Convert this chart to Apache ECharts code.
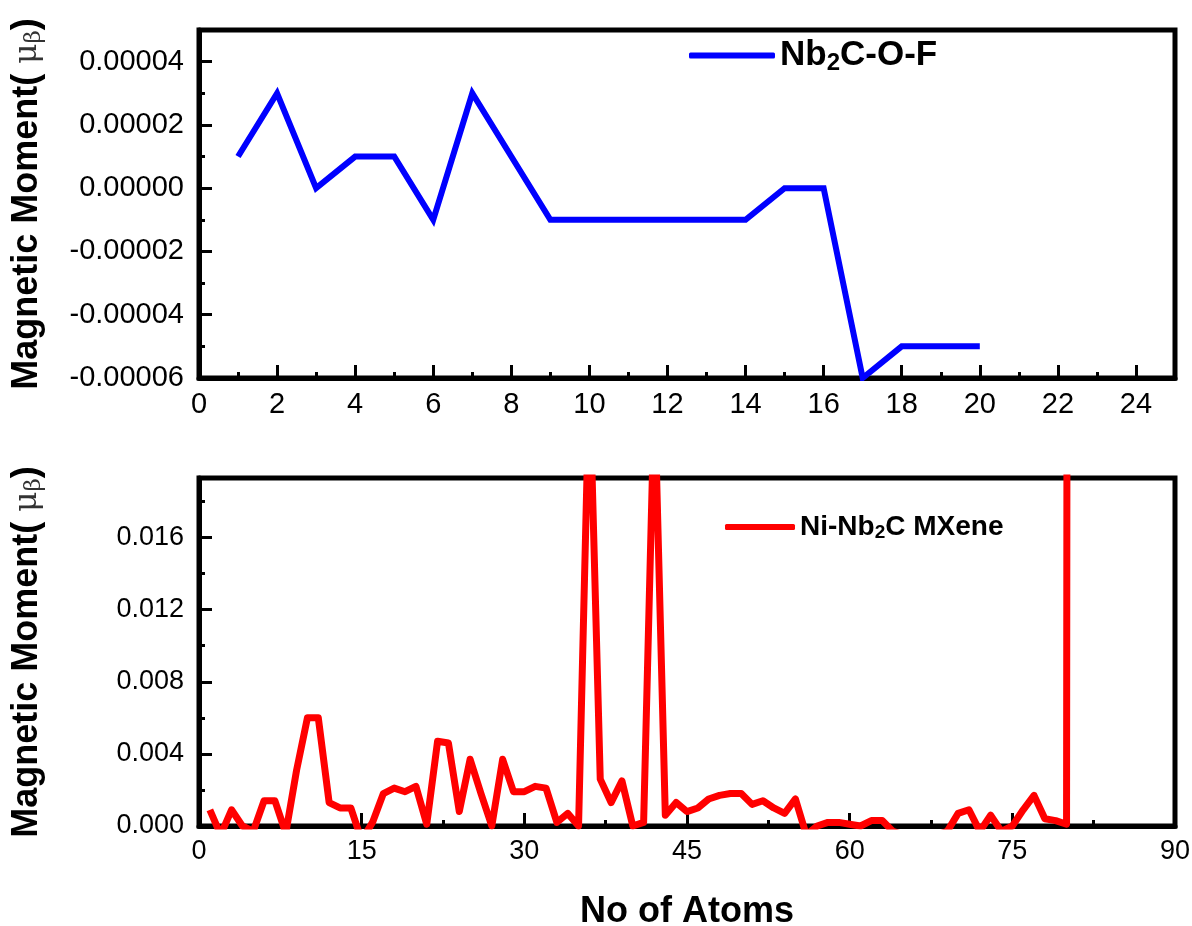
<!DOCTYPE html>
<html>
<head>
<meta charset="utf-8">
<script src="https://cdn.jsdelivr.net/npm/echarts@6/dist/echarts.min.js"></script>
<style>
html,body{margin:0;padding:0;background:#fff;}
#chart{width:1192px;height:926px;}
</style>
</head>
<body>
<div id="chart"></div>
<script>
// ---- Data ----
const topAtoms = [1,2,3,4,5,6,7,8,9,10,11,12,13,14,15,16,17,18,19,20];
const topMoment = [0.00001,0.00003,0.00000,0.00001,0.00001,-0.00001,0.00003,0.00001,-0.00001,-0.00001,
                   -0.00001,-0.00001,-0.00001,-0.00001,0.00000,0.00000,-0.00006,-0.00005,-0.00005,-0.00005];
const topXTicks = [0,2,4,6,8,10,12,14,16,18,20,22,24];

const bottomMoment = [
  0.0009,-0.0005,0.0009,0.0000,-0.0003,0.0014,0.0014,-0.0004,0.0031,0.0060,
  0.0060,0.0013,0.0010,0.0010,-0.0008,0.0002,0.0018,0.0021,0.0019,0.0022,
  0.0001,0.0047,0.0046,0.0008,0.0037,0.0018,0.0000,0.0037,0.0019,0.0019,
  0.0022,0.0021,0.0002,0.0007,0.0000,0.0250,0.0026,0.0013,0.0025,0.0000,
  0.0002,0.0240,0.0006,0.0013,0.0008,0.0010,0.0015,0.0017,0.0018,0.0018,
  0.0012,0.0014,0.0010,0.0007,0.0015,-0.0005,0.0000,0.0002,0.0002,0.0001,
  0.0000,0.0003,0.0003,-0.0003,-0.0005,-0.0005,-0.0005,-0.0005,-0.0003,0.0007,
  0.0009,-0.0003,0.0006,-0.0003,0.0000,0.0009,0.0017,0.0004,0.0003,0.0001,
  0.6000
];
const bottomAtoms = bottomMoment.map((v, i) => i + 1);

const topName = 'Nb2C-O-F';
const bottomName = 'Ni-Nb2C MXene';

// ---- Chart ----
const chart = echarts.init(document.getElementById('chart'), null, {renderer: 'canvas'});

const FONT = 'Liberation Sans, Arial, sans-serif';
const frame = {show: true, onZero: false, lineStyle: {color: '#000', width: 5}};
const noLine = {show: false, onZero: false};
const tickMajor = {show: true, inside: true, length: 13, lineStyle: {color: '#000', width: 3}};
const tickMinor = {show: true, inside: true, length: 6, lineStyle: {color: '#000', width: 3}};
const labelTop = {color: '#000', fontSize: 29, fontFamily: FONT};
const labelBottom = {color: '#000', fontSize: 27, fontFamily: FONT};

const yName = 'Magnetic Moment( {mu|μ}{sub|β})';
const yNameStyle = {
  color: '#000', fontSize: 36, fontWeight: 'bold', fontFamily: FONT,
  rich: {
    mu: {fontSize: 31, fontFamily: 'DejaVu Serif, serif', fontWeight: 'normal', color: '#333'},
    sub: {fontSize: 23, fontFamily: 'DejaVu Serif, serif', fontWeight: 'normal', color: '#333', padding: [14, 0, 0, 0]}
  }
};

const legendRich = (big, small, pad) => ({
  a: {fontSize: big, fontWeight: 'bold', fontFamily: FONT, color: '#000'},
  s: {fontSize: small, fontWeight: 'bold', fontFamily: FONT, color: '#000', padding: [pad, 0, 0, 0]}
});

const option = {
  backgroundColor: '#fff',
  animation: false,
  grid: [
    {left: 199, top: 30, width: 976, height: 348, show: true, borderColor: '#000', borderWidth: 5,
     backgroundColor: 'transparent', containLabel: false, outerBoundsMode: 'none'},
    {left: 199, top: 478, width: 976, height: 348, show: true, borderColor: '#000', borderWidth: 5,
     backgroundColor: 'transparent', containLabel: false, outerBoundsMode: 'none'}
  ],
  legend: [
    {
      data: [{name: topName, icon: 'roundRect'}],
      left: 684, top: 33, itemWidth: 86, itemHeight: 6, itemGap: 9,
      formatter: () => '{a|Nb}{s|2}{a|C-O-F}',
      textStyle: {rich: legendRich(35, 24, 15)}
    },
    {
      data: [{name: bottomName, icon: 'roundRect'}],
      left: 720, top: 508, itemWidth: 70, itemHeight: 6, itemGap: 8,
      formatter: () => '{a|Ni-Nb}{s|2}{a|C MXene}',
      textStyle: {rich: legendRich(28, 19, 12)}
    }
  ],
  xAxis: [
    {
      type: 'value', gridIndex: 0, position: 'bottom', min: 0, max: 25, interval: 2,
      axisLine: frame, axisTick: tickMajor, splitLine: {show: false},
      axisLabel: Object.assign({margin: 12, showMaxLabel: false,
        formatter: v => topXTicks.indexOf(v) >= 0 ? String(v) : ''}, labelTop)
    },
    {
      type: 'value', gridIndex: 0, position: 'bottom', min: 0, max: 25, interval: 1,
      axisLine: noLine, axisTick: tickMinor, splitLine: {show: false}, axisLabel: {show: false}
    },
    {
      type: 'value', gridIndex: 1, position: 'bottom', min: 0, max: 90, interval: 15,
      axisLine: frame, axisTick: tickMajor, splitLine: {show: false},
      axisLabel: Object.assign({margin: 12}, labelBottom),
      name: 'No of Atoms', nameLocation: 'middle', nameGap: 68,
      nameTextStyle: {color: '#000', fontSize: 36, fontWeight: 'bold', fontFamily: FONT}
    },
    {
      type: 'value', gridIndex: 1, position: 'bottom', min: 0, max: 90, interval: 7.5,
      axisLine: noLine, axisTick: tickMinor, splitLine: {show: false}, axisLabel: {show: false}
    }
  ],
  yAxis: [
    {
      type: 'value', gridIndex: 0, position: 'left', min: -0.00006, max: 0.00005, interval: 0.00002,
      axisLine: frame, axisTick: tickMajor, splitLine: {show: false},
      axisLabel: Object.assign({margin: 15, showMaxLabel: false,
        formatter: v => Math.abs(v) < 1e-12 ? '0.00000' : v.toFixed(5)}, labelTop),
      name: yName, nameLocation: 'middle', nameRotate: 90, nameGap: 153,
      nameTextStyle: yNameStyle
    },
    {
      type: 'value', gridIndex: 0, position: 'left', min: -0.00006, max: 0.00005, interval: 0.00001,
      axisLine: noLine, axisTick: tickMinor, splitLine: {show: false}, axisLabel: {show: false}
    },
    {
      type: 'value', gridIndex: 1, position: 'left', min: 0, max: 0.0193, interval: 0.004,
      axisLine: frame, axisTick: tickMajor, splitLine: {show: false},
      axisLabel: Object.assign({margin: 15, showMaxLabel: false,
        formatter: v => v.toFixed(3)}, labelBottom),
      name: yName, nameLocation: 'middle', nameRotate: 90, nameGap: 153,
      nameTextStyle: yNameStyle
    },
    {
      type: 'value', gridIndex: 1, position: 'left', min: 0, max: 0.0193, interval: 0.002,
      axisLine: noLine, axisTick: tickMinor, splitLine: {show: false}, axisLabel: {show: false}
    }
  ],
  series: [
    {
      name: topName, type: 'line', xAxisIndex: 0, yAxisIndex: 0,
      data: topAtoms.map((x, i) => [x, topMoment[i]]),
      showSymbol: false, symbol: 'none', clip: true,
      color: '#0000ff',
      lineStyle: {color: '#0000ff', width: 6, join: 'miter'}
    },
    {
      name: bottomName, type: 'line', xAxisIndex: 2, yAxisIndex: 2,
      data: bottomAtoms.map((x, i) => [x, bottomMoment[i]]),
      showSymbol: false, symbol: 'none', clip: true,
      color: '#ff0000',
      lineStyle: {color: '#ff0000', width: 7, join: 'round'}
    }
  ]
};
chart.setOption(option);
</script>
</body>
</html>
